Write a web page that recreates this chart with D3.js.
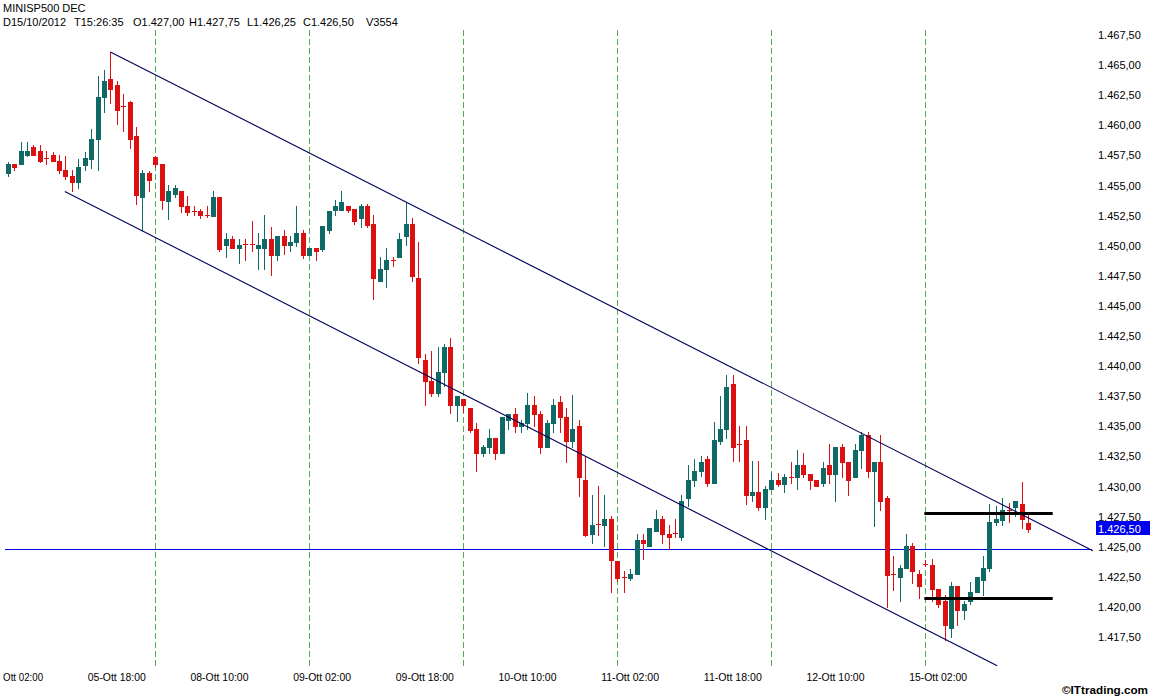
<!DOCTYPE html>
<html><head><meta charset="utf-8">
<script src="https://cdn.jsdelivr.net/npm/d3@7"></script>
<style>body{margin:0;background:#fff}svg{display:block}</style>
</head><body><svg id="c" width="1150" height="696"></svg>
<script>
// ---------- data ----------
const title = "MINISP500 DEC";
const headerItems = ["D15/10/2012","T15:26:35","O1.427,00","H1.427,75","L1.426,25","C1.426,50","V3554"];
const openV = [1456.04,1456.81,1456.78,1457.50,1458.17,1457.89,1457.30,1457.56,1457.06,1456.31,
1455.81,1455.26,1456.73,1457.23,1458.86,1462.32,1463.84,1463.34,1461.57,1461.91,
1459.14,1454.01,1456.04,1457.34,1456.81,1453.73,1454.29,1454.56,1453.32,1452.87,
1452.85,1452.54,1452.49,1454.04,1450.02,1450.55,1449.77,1450.10,1450.10,1449.77,
1449.77,1450.55,1449.25,1450.80,1450.02,1450.27,1451.05,1449.25,1449.80,1449.72,
1451.27,1452.99,1452.99,1453.32,1453.04,1452.30,1453.32,1451.83,1447.04,1448.06,
1448.80,1449.03,1450.77,1451.83,1447.31,1440.50,1438.79,1437.76,1439.48,1441.58,
1436.79,1437.26,1436.52,1434.77,1432.78,1433.28,1434.02,1432.78,1435.49,1436.05,
1435.05,1435.27,1436.79,1436.05,1433.28,1435.27,1437.01,1435.77,1433.75,1435.05,
1430.56,1426.05,1426.85,1426.83,1427.30,1423.78,1422.50,1422.40,1422.73,1425.58,
1425.03,1426.27,1427.30,1426.08,1426.10,1425.77,1429.04,1430.51,1431.31,1432.31,
1430.29,1433.80,1434.77,1438.54,1433.57,1433.83,1429.26,1429.54,1428.29,1429.79,
1430.51,1430.23,1430.81,1430.79,1431.81,1431.04,1430.57,1430.29,1431.81,1431.04,
1433.28,1432.03,1430.79,1433.00,1434.30,1431.26,1432.03,1429.04,1422.75,1422.45,
1423.23,1425.08,1422.76,1423.53,1423.51,1421.52,1420.52,1418.25,1421.77,1419.72,
1420.46,1421.24,1422.21,1423.23,1427.03,1427.25,1428.04,1428.30,1428.58,1427.00];
const highV = [1456.92,1456.81,1458.64,1458.64,1458.36,1458.36,1457.84,1457.75,1457.50,1457.48,
1456.31,1457.23,1457.75,1459.69,1464.12,1464.62,1466.09,1463.65,1462.60,1461.99,
1459.86,1456.31,1456.23,1457.42,1456.81,1455.06,1455.06,1454.56,1454.09,1453.26,
1453.04,1453.26,1454.56,1454.04,1451.05,1450.77,1450.55,1450.55,1452.07,1451.05,
1452.54,1451.55,1450.80,1451.32,1450.77,1453.32,1451.32,1449.80,1449.80,1451.60,
1452.85,1453.82,1454.57,1453.32,1453.04,1453.49,1453.49,1452.57,1449.06,1449.80,
1449.06,1451.05,1453.54,1452.30,1450.30,1441.03,1441.28,1441.58,1441.83,1442.33,
1437.54,1437.30,1436.52,1435.27,1433.47,1434.77,1434.02,1435.77,1436.05,1436.52,
1435.55,1437.76,1437.54,1436.24,1435.55,1437.26,1437.54,1436.52,1437.62,1435.55,
1432.50,1429.32,1430.01,1429.32,1427.52,1423.78,1422.95,1423.14,1426.08,1426.08,
1426.55,1428.02,1427.57,1426.83,1427.30,1429.32,1431.81,1432.31,1432.56,1432.50,
1435.33,1437.54,1439.28,1439.28,1435.05,1435.05,1432.09,1432.09,1430.06,1431.12,
1431.12,1431.06,1432.03,1433.06,1432.78,1431.04,1430.57,1432.03,1433.56,1433.28,
1433.56,1432.03,1433.56,1434.53,1434.53,1432.03,1434.30,1429.24,1424.20,1423.45,
1426.05,1425.31,1423.09,1423.93,1423.98,1421.52,1421.02,1422.04,1421.77,1420.52,
1422.04,1422.49,1424.26,1428.58,1428.35,1429.05,1428.63,1428.77,1430.35,1427.75];
const lowV = [1455.76,1456.26,1456.78,1457.48,1457.50,1456.92,1456.78,1457.00,1456.04,1455.57,
1454.51,1454.76,1456.31,1456.45,1456.26,1461.07,1461.85,1460.11,1459.55,1458.11,
1453.49,1451.33,1454.51,1456.53,1453.05,1452.24,1454.01,1452.79,1452.52,1452.57,
1452.29,1452.35,1452.49,1449.53,1449.05,1449.77,1448.56,1448.78,1449.53,1448.06,
1448.06,1447.56,1448.83,1449.30,1449.58,1450.00,1448.97,1449.25,1448.78,1449.53,
1451.05,1452.57,1452.99,1452.77,1451.80,1451.55,1451.55,1445.57,1447.04,1446.57,
1448.28,1449.03,1450.03,1447.04,1440.25,1436.74,1437.48,1437.48,1438.31,1436.10,
1435.40,1436.20,1434.50,1431.26,1432.56,1432.78,1432.28,1432.78,1434.77,1434.50,
1434.50,1434.77,1434.99,1432.78,1433.28,1434.50,1434.50,1432.00,1433.28,1429.23,
1425.86,1425.30,1426.00,1425.03,1421.21,1422.12,1421.21,1422.20,1422.73,1423.97,
1425.03,1426.27,1425.30,1424.83,1425.80,1425.58,1428.35,1430.06,1430.84,1430.06,
1430.29,1433.53,1434.02,1432.09,1432.09,1428.54,1428.82,1428.07,1427.30,1429.79,
1430.01,1429.51,1430.29,1429.79,1430.79,1429.79,1430.01,1430.01,1430.29,1428.77,
1430.79,1429.27,1430.79,1431.54,1430.79,1426.75,1428.07,1419.99,1421.43,1420.46,
1423.23,1421.98,1420.74,1423.37,1420.50,1419.99,1417.28,1417.50,1418.47,1419.00,
1420.27,1421.24,1421.02,1422.96,1426.83,1426.83,1427.05,1427.52,1426.56,1426.25];
const closeV = [1456.81,1456.51,1457.89,1457.89,1457.50,1457.00,1457.25,1457.00,1456.26,1455.76,
1455.26,1456.56,1457.28,1458.86,1462.35,1463.65,1463.04,1461.30,1461.50,1458.86,
1454.24,1456.04,1455.48,1456.78,1453.77,1454.56,1454.79,1453.26,1452.76,1452.83,
1452.52,1452.50,1454.04,1449.72,1450.55,1449.77,1450.08,1450.06,1450.06,1450.08,
1450.55,1449.25,1450.80,1450.02,1450.30,1451.05,1449.25,1449.80,1449.53,1451.60,
1452.85,1453.32,1453.60,1452.99,1452.02,1453.32,1451.74,1447.29,1448.06,1448.84,
1448.76,1450.55,1451.83,1447.51,1440.72,1438.73,1437.76,1439.51,1441.58,1436.74,
1437.54,1436.79,1434.72,1432.78,1433.28,1434.02,1432.78,1435.77,1436.05,1435.05,
1435.27,1436.79,1436.02,1433.28,1435.27,1436.79,1435.77,1433.75,1434.77,1430.79,
1426.00,1426.83,1426.80,1427.30,1423.92,1422.40,1422.45,1422.76,1425.58,1425.30,
1426.55,1427.30,1426.05,1425.80,1426.06,1428.82,1430.56,1431.31,1432.06,1430.29,
1433.83,1434.80,1438.26,1433.28,1433.53,1429.26,1429.54,1428.29,1429.82,1430.51,
1430.23,1430.79,1430.77,1431.81,1431.04,1430.51,1430.01,1431.54,1431.04,1433.28,
1432.03,1430.51,1433.06,1434.30,1431.26,1432.03,1428.77,1422.68,1422.71,1423.23,
1425.08,1422.95,1421.71,1423.49,1421.49,1420.24,1418.47,1421.77,1419.72,1420.27,
1421.24,1422.49,1423.23,1427.03,1427.30,1428.02,1428.00,1428.77,1427.30,1426.50];
const xTickIdx = [1,17,33,49,65,81,97,113,129,145];
const xTickLabels = ["Ott 02:00","05-Ott 18:00","08-Ott 10:00","09-Ott 02:00","09-Ott 18:00","10-Ott 10:00","11-Ott 02:00","11-Ott 18:00","12-Ott 10:00","15-Ott 02:00"];
const gridIdx = [23,47,71,95,119,143];
const yTickValues = [1417.5,1420,1422.5,1425,1427.5,1430,1432.5,1435,1437.5,1440,1442.5,1445,1447.5,1450,1452.5,1455,1457.5,1460,1462.5,1465,1467.5];
const upperChannel = [[16,1466.09],[169.1,1424.67]];
const lowerChannel = [[8.9,1454.51],[154.2,1415.12]];
const hLinePrice = 1424.85;
const levelPrices = [1427.80,1420.74];
const levelIdxRange = [142.85,162.85];
const lastPrice = 1426.50;
const copyright = "\u00A9ITtrading.com";

// ---------- chart ----------
const svg = d3.select("#c");
const FONT = "'Liberation Sans', Arial, sans-serif";
const x = d3.scaleLinear().domain([0,159]).range([7.7,1028.0]);
const y = d3.scaleLinear().domain([1417.5,1467.5]).range([637,35]);
const itFmt = d3.formatLocale({decimal:",",thousands:".",grouping:[3],currency:["",""]}).format(",.2f");
const UP = "#0f6a66", DN = "#dc1010";

// vertical dashed grid
svg.append("g").selectAll("line").data(gridIdx).join("line")
  .attr("x1",d=>Math.round(x(d))+0.5).attr("x2",d=>Math.round(x(d))+0.5)
  .attr("y1",30).attr("y2",668)
  .attr("stroke","#4fb04f").attr("stroke-width",1).attr("stroke-dasharray","6,3");

// horizontal level line
svg.append("line").attr("x1",5).attr("x2",1092)
  .attr("y1",Math.round(y(hLinePrice))+0.5).attr("y2",Math.round(y(hLinePrice))+0.5)
  .attr("stroke","#0000e6").attr("stroke-width",1);

// candles
const bars = d3.range(openV.length).map(i=>({i,o:openV[i],h:highV[i],l:lowV[i],c:closeV[i]}));
const g = svg.append("g");
bars.forEach(b=>{
  const cx = Math.round(x(b.i));
  const col = b.c >= b.o ? UP : DN;
  g.append("line").attr("x1",cx+0.5).attr("x2",cx+0.5)
    .attr("y1",Math.round(y(b.h))).attr("y2",Math.round(y(b.l))+1)
    .attr("stroke",col).attr("stroke-width",1);
  if (Math.abs(b.o-b.c) < 0.1) {
    const yy = Math.round(y(b.o))+0.5;
    g.append("line").attr("x1",cx-2).attr("x2",cx+3).attr("y1",yy).attr("y2",yy)
      .attr("stroke",col).attr("stroke-width",1);
  } else {
    const top = Math.round(y(Math.max(b.o,b.c))), bot = Math.round(y(Math.min(b.o,b.c)));
    g.append("rect").attr("x",cx-2).attr("width",5)
      .attr("y",top).attr("height",Math.max(1,bot-top+1)).attr("fill",col);
  }
});

// channel lines
[upperChannel,lowerChannel].forEach(seg=>{
  svg.append("line").attr("x1",x(seg[0][0])).attr("y1",y(seg[0][1]))
    .attr("x2",x(seg[1][0])).attr("y2",y(seg[1][1]))
    .attr("stroke","#00005a").attr("stroke-width",1.1);
});

// black levels
levelPrices.forEach(p=>{
  svg.append("line").attr("x1",x(levelIdxRange[0])).attr("x2",x(levelIdxRange[1]))
    .attr("y1",Math.round(y(p))+0.5).attr("y2",Math.round(y(p))+0.5)
    .attr("stroke","#000").attr("stroke-width",3);
});

// y axis (right)
const ya = svg.append("g").attr("transform","translate(1097,0)")
  .call(d3.axisRight(y).tickValues(yTickValues).tickSize(0).tickPadding(1).tickFormat(itFmt));
ya.select(".domain").remove();
ya.selectAll("text").attr("font-family",FONT).attr("font-size",11).attr("fill","#000");

// last price tag
svg.append("rect").attr("x",1096).attr("y",Math.round(y(lastPrice))-8).attr("width",54).attr("height",14).attr("fill","#0000f0");
svg.append("text").attr("x",1098).attr("y",Math.round(y(lastPrice))+3.5)
  .attr("font-family",FONT).attr("font-size",11).attr("fill","#fff").text(itFmt(lastPrice));

// x labels (first one is partially shown in the original, so it is right-aligned to its visible end)
svg.append("g").selectAll("text").data(xTickIdx).join("text")
  .attr("x",(d,k)=>k===0 ? x(d)+29 : x(d)).attr("y",681)
  .attr("text-anchor",(d,k)=>k===0 ? "end" : "middle")
  .attr("font-family",FONT).attr("font-size",11).attr("fill","#000")
  .attr("textLength",(d,k)=>k===0 ? 40 : 58).attr("lengthAdjust","spacingAndGlyphs")
  .text((d,k)=>xTickLabels[k]);

// header
svg.append("text").attr("x",3).attr("y",12).attr("font-family",FONT).attr("font-size",11).text(title);
const hdrX = [3,74,133,189,247,303,366];
svg.append("g").selectAll("text").data(headerItems).join("text")
  .attr("x",(d,k)=>hdrX[k]).attr("y",26).attr("font-family",FONT).attr("font-size",11).text(d=>d);

// copyright
svg.append("text").attr("x",1148).attr("y",694).attr("text-anchor","end")
  .attr("font-family",FONT).attr("font-size",11).attr("font-weight","bold")
  .attr("textLength",86).attr("lengthAdjust","spacingAndGlyphs").text(copyright);
</script></body></html>
